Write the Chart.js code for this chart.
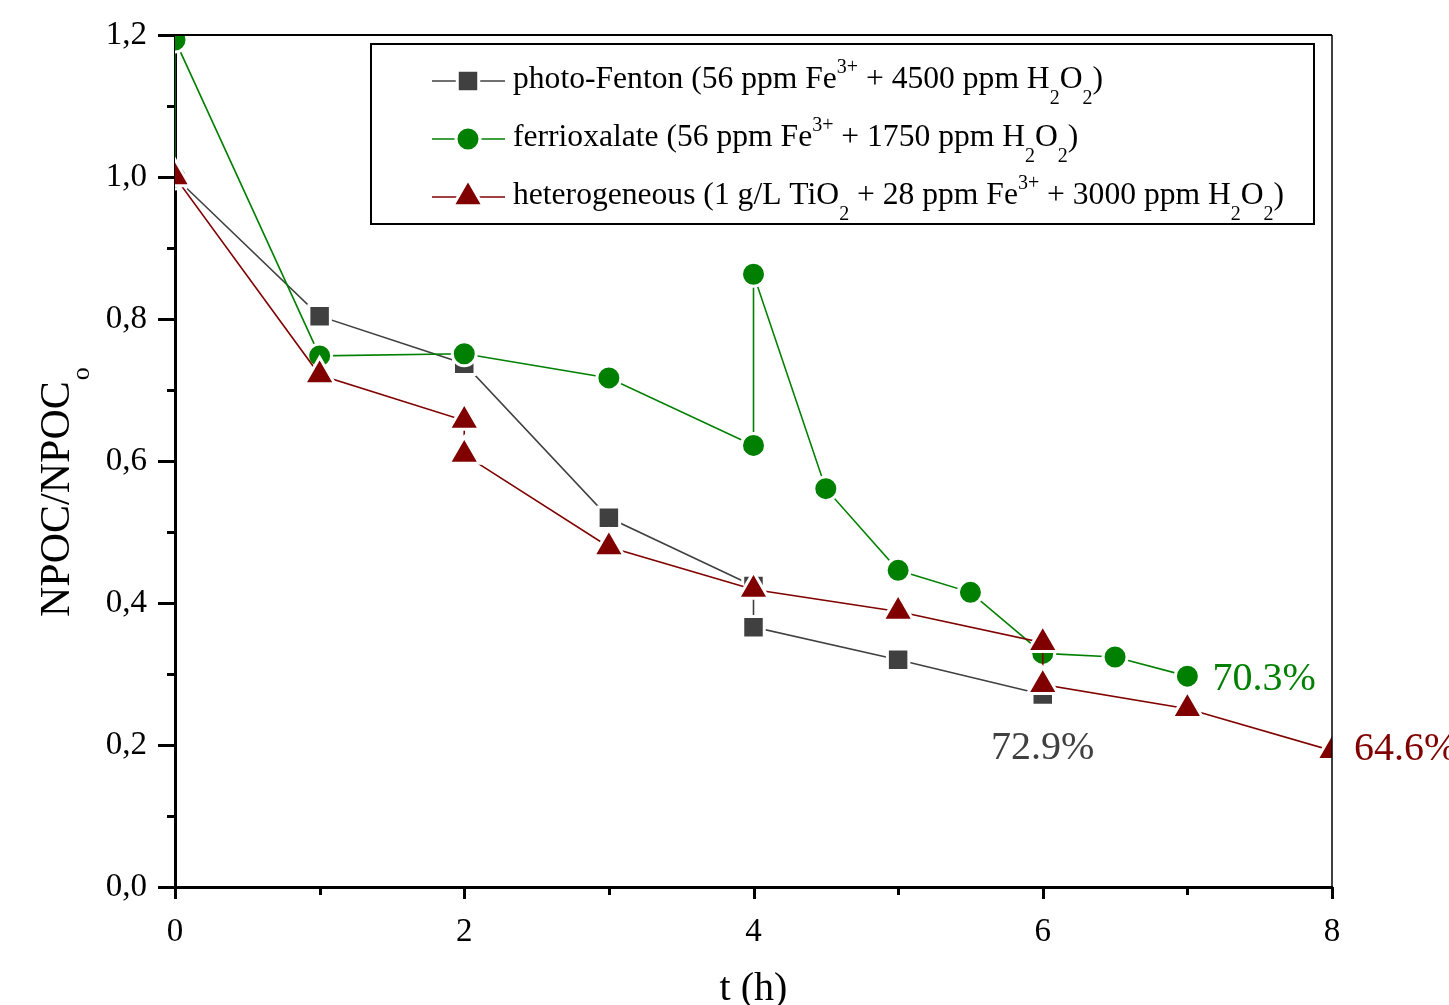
<!DOCTYPE html>
<html>
<head>
<meta charset="utf-8">
<title>NPOC removal</title>
<script src="https://cdn.jsdelivr.net/npm/chart.js@4.4.1/dist/chart.umd.min.js"></script>
<style>
  html, body { margin: 0; padding: 0; background: #fff; }
</style>
</head>
<body>
<canvas id="graph" width="1449" height="1005"></canvas>
<script>
// t (h) and NPOC/NPOCo for each treatment
const photoFentonT = [0, 1, 2, 3, 4, 4, 5, 6];
const photoFentonY = [1.0, 0.804, 0.737, 0.520, 0.424, 0.366, 0.320, 0.271];

const ferriT = [0, 0, 1, 2, 3, 4, 4, 4.5, 5, 5.5, 6, 6.5, 7];
const ferriY = [1.0, 1.193, 0.748, 0.751, 0.717, 0.622, 0.863, 0.561, 0.446, 0.415, 0.329, 0.324, 0.297];

const heteroT = [0, 1, 2, 2, 3, 4, 5, 6, 6, 7, 8];
const heteroY = [1.0, 0.721, 0.657, 0.609, 0.479, 0.419, 0.388, 0.344, 0.285, 0.251, 0.192];

// final removal written next to the last point of each series
const removal = ['72.9%', '70.3%', '64.6%'];

const xMin = 0, xMax = 8, xStep = 2;
const yMin = 0, yMax = 1.2, yStep = 0.2;

// legend text as runs: plain, 'sup' or 'sub'
const legendRows = [
  [['photo-Fenton (56 ppm Fe'], ['3+', 'sup'], [' + 4500 ppm H'], ['2', 'sub'], ['O'], ['2', 'sub'], [')']],
  [['ferrioxalate (56 ppm Fe'], ['3+', 'sup'], [' + 1750 ppm H'], ['2', 'sub'], ['O'], ['2', 'sub'], [')']],
  [['heterogeneous (1 g/L TiO'], ['2', 'sub'], [' + 28 ppm Fe'], ['3+', 'sup'], [' + 3000 ppm H'], ['2', 'sub'], ['O'], ['2', 'sub'], [')']]
];

const GRAY = '#404040';
const GREEN = '#008000';
const RED = '#800000';
const FONT = '"Liberation Serif", "Times New Roman", serif';

function pairs(xs, ys) {
  return xs.map((t, i) => ({x: t, y: ys[i]}));
}

function drawRuns(ctx, runs, x, y, size) {
  for (const [txt, kind] of runs) {
    const small = kind === 'sup' || kind === 'sub';
    ctx.font = (small ? Math.round(size * 0.64) : size) + 'px ' + FONT;
    let dy = 0;
    if (kind === 'sup') dy = -size * 0.46;
    if (kind === 'sub') dy = size * 0.5;
    ctx.fillText(txt, x, y + dy);
    x += ctx.measureText(txt).width;
  }
  return x;
}

// box outline, tick marks (major + minor) and axis titles
const frame = {
  id: 'frame',
  afterDraw(chart) {
    const {ctx, chartArea: a, scales: {x, y}} = chart;
    ctx.save();
    ctx.strokeStyle = '#000';
    ctx.lineWidth = 2;
    ctx.beginPath(); ctx.moveTo(a.left, a.top); ctx.lineTo(a.right, a.top); ctx.stroke();
    ctx.lineWidth = 1.5;
    ctx.beginPath(); ctx.moveTo(a.right, a.top); ctx.lineTo(a.right, a.bottom); ctx.stroke();

    ctx.lineWidth = 3;
    for (let v = yMin, i = 0; v <= yMax + 1e-9; v += yStep / 2, i++) {
      const py = Math.round(y.getPixelForValue(v)) + 0.5;
      const len = i % 2 ? 8 : 17;
      ctx.beginPath(); ctx.moveTo(a.left - len, py); ctx.lineTo(a.left, py); ctx.stroke();
    }
    for (let v = xMin, i = 0; v <= xMax + 1e-9; v += xStep / 2, i++) {
      const px = Math.round(x.getPixelForValue(v)) + 0.5;
      const len = i % 2 ? 8 : 12;
      ctx.beginPath(); ctx.moveTo(px, a.bottom); ctx.lineTo(px, a.bottom + len); ctx.stroke();
    }

    ctx.fillStyle = '#000';
    ctx.textBaseline = 'alphabetic';
    ctx.textAlign = 'center';
    ctx.font = '40px ' + FONT;
    ctx.fillText('t (h)', (a.left + a.right) / 2, 1000);

    ctx.translate(69, 617);
    ctx.rotate(-Math.PI / 2);
    ctx.textAlign = 'left';
    ctx.font = '42px ' + FONT;
    ctx.fillText('NPOC/NPOC', 0, 0);
    const w = ctx.measureText('NPOC/NPOC').width;
    ctx.font = '26px ' + FONT;
    ctx.fillText('o', w + 1, 20);
    ctx.restore();
  }
};

// boxed legend with sub/superscripts, markers taken from the datasets
const richLegend = {
  id: 'richLegend',
  afterDraw(chart) {
    const ctx = chart.ctx;
    ctx.save();
    ctx.fillStyle = '#fff';
    ctx.fillRect(371, 44, 943, 180);
    ctx.strokeStyle = '#000';
    ctx.lineWidth = 2;
    ctx.strokeRect(371, 44, 943, 180);
    chart.data.datasets.forEach((ds, i) => {
      const cy = 81 + 58 * i;
      ctx.strokeStyle = ds.borderColor;
      ctx.lineWidth = ds.borderWidth;
      ctx.beginPath(); ctx.moveTo(432, cy); ctx.lineTo(505, cy); ctx.stroke();
      ctx.fillStyle = ds.pointBackgroundColor;
      ctx.strokeStyle = ds.pointBorderColor;
      ctx.lineWidth = ds.pointBorderWidth;
      Chart.helpers.drawPoint(ctx, {
        pointStyle: ds.pointStyle,
        radius: ds.pointRadius,
        rotation: 0,
        borderWidth: ds.pointBorderWidth
      }, 468, cy);
      ctx.fillStyle = '#000';
      ctx.textAlign = 'left';
      ctx.textBaseline = 'alphabetic';
      drawRuns(ctx, legendRows[i], 513, cy + 7, 31.6);
    });
    ctx.restore();
  }
};

// percentage labels beside the last point of each curve
const endLabels = {
  id: 'endLabels',
  afterDraw(chart) {
    const ctx = chart.ctx;
    const place = [
      {dx: 0, dy: 64, align: 'center'},
      {dx: 25, dy: 14, align: 'left'},
      {dx: 22, dy: 9, align: 'left'}
    ];
    ctx.save();
    ctx.font = '40px ' + FONT;
    ctx.textBaseline = 'alphabetic';
    chart.data.datasets.forEach((ds, i) => {
      const pts = chart.getDatasetMeta(i).data;
      const last = pts[pts.length - 1];
      ctx.fillStyle = ds.borderColor;
      ctx.textAlign = place[i].align;
      ctx.fillText(removal[i], last.x + place[i].dx, last.y + place[i].dy);
    });
    ctx.restore();
  }
};

function series(label, xs, ys, color, style, radius, order) {
  return {
    label: label,
    data: pairs(xs, ys),
    borderColor: color,
    borderWidth: 1.6,
    pointStyle: style,
    pointRadius: radius,
    pointHoverRadius: radius,
    pointBackgroundColor: color,
    pointBorderColor: '#fff',
    pointBorderWidth: 3,
    tension: 0,
    order: order
  };
}

const ctx = document.getElementById('graph');

const graph = new Chart(ctx, {
  type: 'line',
  data: {
    datasets: [
      series('photo-Fenton', photoFentonT, photoFentonY, GRAY, 'rect', 15.2, 3),
      series('ferrioxalate', ferriT, ferriY, GREEN, 'circle', 12, 2),
      series('heterogeneous', heteroT, heteroY, RED, 'triangle', 17.5, 1)
    ]
  },
  options: {
    responsive: false,
    animation: false,
    events: [],
    layout: { padding: { left: 0, right: 117, top: 35, bottom: 0 } },
    plugins: {
      legend: { display: false },
      tooltip: { enabled: false }
    },
    scales: {
      x: {
        type: 'linear',
        min: xMin,
        max: xMax,
        grid: { display: false, drawTicks: false },
        border: { display: true, color: '#000', width: 3 },
        ticks: {
          stepSize: xStep,
          padding: 26,
          color: '#000',
          font: { family: FONT, size: 33 }
        },
        afterFit(scale) {
          scale.height = 118;
          scale.paddingLeft = 0;
          scale.paddingRight = 0;
        }
      },
      y: {
        type: 'linear',
        min: yMin,
        max: yMax,
        grid: { display: false, drawTicks: false },
        border: { display: true, color: '#000', width: 3 },
        ticks: {
          stepSize: yStep,
          padding: 28,
          color: '#000',
          font: { family: FONT, size: 33 },
          callback: (v) => v.toFixed(1).replace('.', ',')
        },
        afterFit(scale) {
          scale.width = 175;
          scale.paddingTop = 0;
          scale.paddingBottom = 0;
        }
      }
    }
  },
  plugins: [frame, richLegend, endLabels]
});
</script>
</body>
</html>
